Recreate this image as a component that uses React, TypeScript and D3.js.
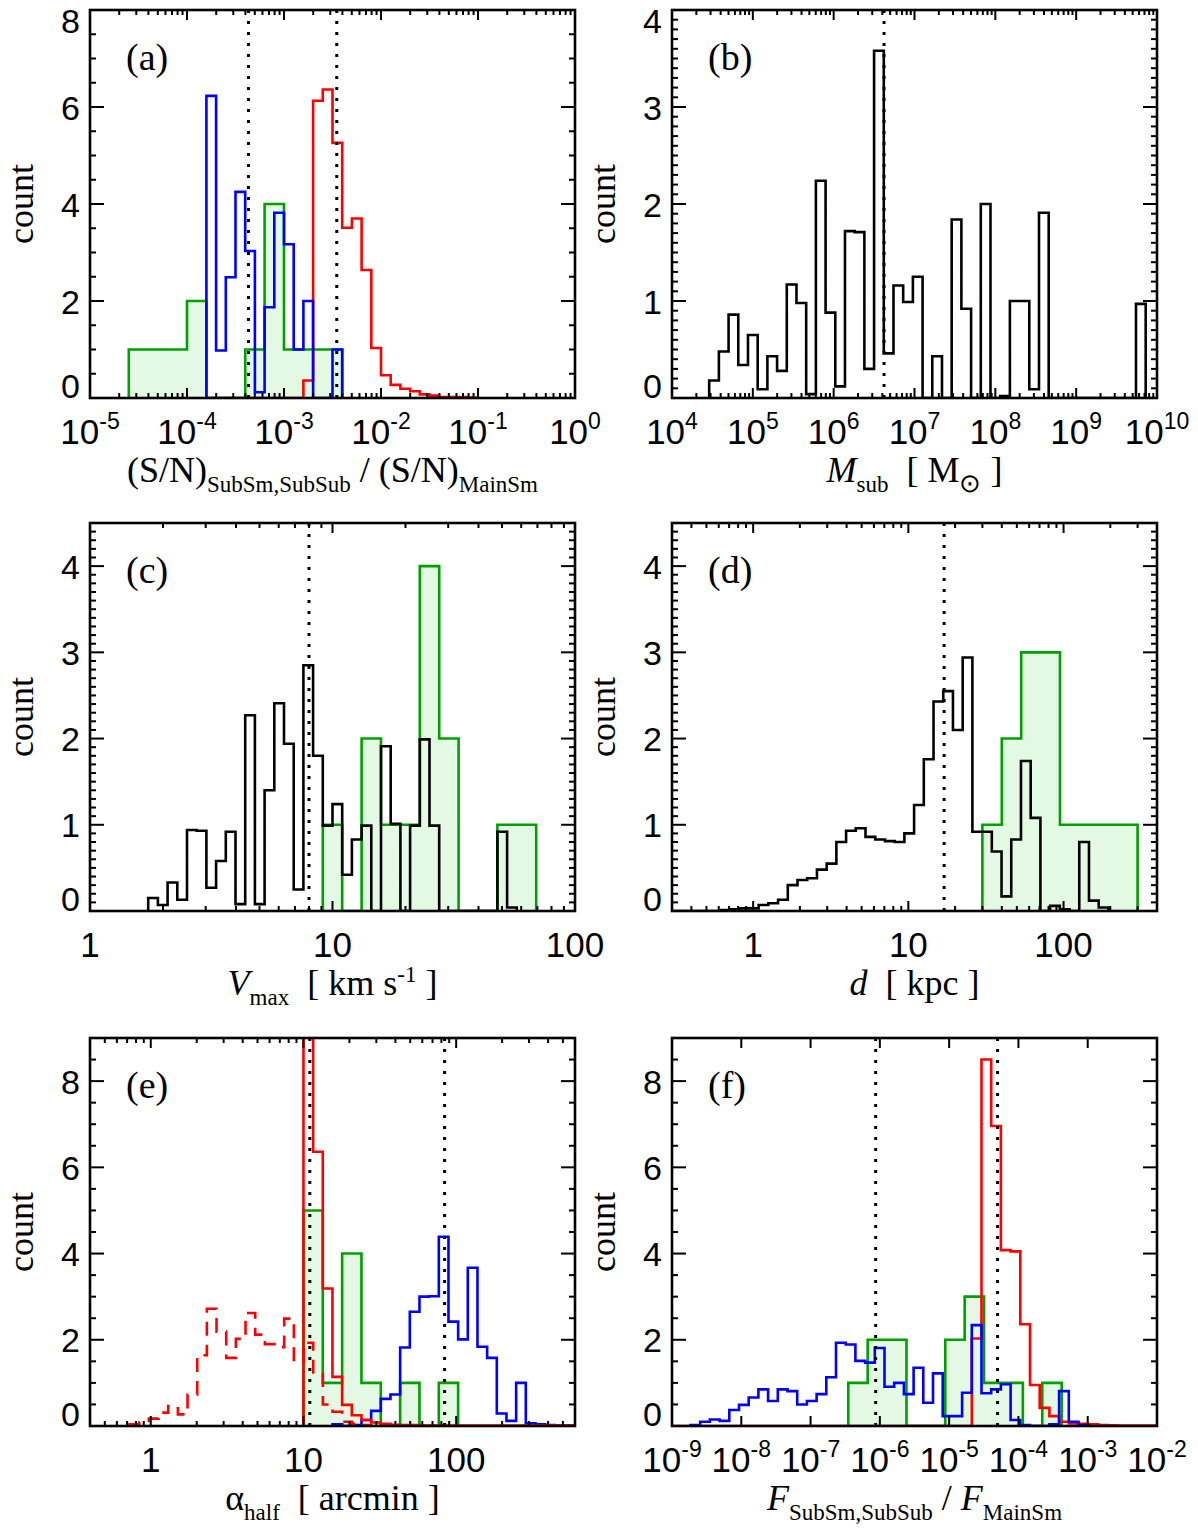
import * as d3 from "d3";
import React from "react";

const W = 1198;
const H = 1530;
const SANS = "'Liberation Sans', Arial, Helvetica, sans-serif";
const SERIF = "'Liberation Serif', 'Times New Roman', serif";

const RED = "#ff0000";
const BLUE = "#0000ff";
const GREEN = "#00a000";
const GREEN_FILL = "#e3f9e3";

// ---- panel (a): (S/N) ratio, log10 bin edges ----
const aGreenStart = -4.6, aGreenWidth = 0.2;
const aGreen = [1, 1, 1, 2, 0, 0, 1, 4, 1, 1, 1];
const aBlueStart = -3.8, aBlueWidth = 0.1;
const aBlue = [6.23, 0.98, 2.49, 4.25, 3.03, 0.12, 1.87, 3.82, 3.17, 1.0, 2.0, 0, 0, 1.0];
const aRedStart = -3.8, aRedWidth = 0.1;
const aRed = [0, 0, 0, 0, 0, 0, 0, 0, 0, 0, 0.36, 6.13, 6.36, 5.26, 3.51, 3.7, 2.64, 1.03, 0.47, 0.27, 0.19, 0.14, 0.075, 0.05, 0.02, 0.02, 0.02, 0.01];
const aDotted = [4.3e-4, 3.5e-3];

// ---- panel (b): M_sub ----
const bBlackStart = 4.46, bBlackWidth = 0.12;
const bBlack = [0.18, 0.48, 0.86, 0.34, 0.65, 0.09, 0.43, 0.28, 1.17, 0.98, 0.04, 2.24, 0.88, 0.12, 1.72, 1.71, 0.3, 3.58, 0.46, 1.16, 0.99, 1.25, 0, 0.43, 0, 1.84, 0.92, 0, 2.0, 0, 0.02, 1.0, 1.0, 0.09, 1.91, 0, 0, 0, 0, 0, 0, 0, 0, 0, 0.97];
const bDotted = [4.2e6];

// ---- panel (c): V_max ----
const cBlackStart = 0.24, cBlackWidth = 0.04;
const cBlack = [0.15, 0.07, 0.33, 0.13, 0.94, 0.93, 0.27, 0.58, 0.92, 0.08, 2.27, 0.08, 1.4, 2.41, 1.94, 0.25, 2.85, 1.8, 0.99, 1.24, 0.42, 0.83, 0.99, 0, 1.91, 1.01, 0, 0.99, 1.99, 0.99, 0, 0, 0, 0, 0, 0, 0.92, 0.04];
const cGreenStart = 0.96, cGreenWidth = 0.08;
const cGreen = [1, 0, 2, 1, 1, 4, 2, 0, 0, 1, 1];
const cDotted = [8];

// ---- panel (d): d ----
const dBlackStart = -0.215, dBlackWidth = 0.0626;
const dBlack = [0.01, 0.02, 0.03, 0.03, 0.07, 0.09, 0.13, 0.3, 0.36, 0.38, 0.48, 0.55, 0.8, 0.93, 0.96, 0.86, 0.83, 0.81, 0.8, 0.9, 1.23, 1.76, 2.43, 2.55, 2.1, 2.94, 0.92, 0.92, 0.69, 0.17, 0.83, 1.74, 1.08, 0, 0.06, 0.02, 0, 0.8, 0.12, 0.04];
const dGreenStart = 1.477, dGreenWidth = 0.125;
const dGreen = [1, 2, 3, 3, 1, 1, 1, 1];
const dDotted = [17];

// ---- panel (e): alpha_half ----
const eDashStart = -0.139, eDashWidth = 0.0633;
const eRedDash = [0.04, 0.08, 0.17, 0.31, 0.46, 0.27, 0.73, 1.64, 2.72, 2.19, 1.58, 2.02, 2.62, 2.12, 1.9, 1.83, 2.49, 1.5, 1.93, 1.2, 0.5, 0.33, 0.1, 0.05, 0.02];
const eRedStart = 1.0, eRedWidth = 0.0633;
const eRed = [14, 6.36, 3.19, 1.14, 0.49, 0.25, 0.14, 0.08, 0.05, 0.03, 0.02, 0.02, 0.01, 0.01, 0.01, 0.01, 0.01, 0.01, 0.01, 0.01, 0.01, 0.01, 0.01, 0.01, 0.01, 0.01, 0.01, 0.01];
const eBlueStart = 1.19, eBlueWidth = 0.0633;
const eBlue = [0.04, 0, 0.02, 0.14, 0.35, 0.63, 0.73, 1.82, 2.65, 3.0, 3.01, 4.39, 2.42, 2.01, 3.67, 1.84, 1.58, 0.29, 0.12, 1.0, 0.06, 0.04, 0.02, 0.01, 0.01];
const eGreenStart = 1.0, eGreenWidth = 0.1266;
const eGreen = [5, 1, 4, 1, 0, 1, 0, 1];
const eDotted = [11, 84];

// ---- panel (f): flux ratio ----
const fBlueStart = -8.733, fBlueWidth = 0.14;
const fBlue = [0.02, 0.1, 0.15, 0.12, 0.37, 0.49, 0.66, 0.85, 0.58, 0.85, 0.81, 0.5, 0.58, 0.74, 1.13, 1.93, 1.89, 1.51, 1.47, 1.81, 0.91, 1.0, 0.74, 1.35, 0.54, 1.22, 0.23, 0.23, 0.77, 2.34, 0.76, 0.85, 0.97, 0.14, 0.02, 0, 0, 0.04, 0.81, 0.1, 0.02];
const fRedStart = -4.673, fRedWidth = 0.14;
const fRed = [2.03, 8.5, 6.96, 4.08, 4.05, 2.36, 0.95, 0.42, 0.23, 0.1, 0.06, 0.05, 0.04, 0.02, 0.015, 0.01, 0.01, 0.01, 0.01];
const fGreenStart = -6.456, fGreenWidth = 0.28;
const fGreen = [1, 2, 2, 0, 0, 2, 3, 1, 1, 0, 1];
const fDotted = [8.7e-7, 5e-5];

type Hist = {
  start: number;
  width: number;
  values: number[];
  color: string;
  fill?: string;
  dash?: string;
  lead?: boolean;
};

type PanelProps = {
  id: string;
  x0: number;
  y0: number;
  xDomain: [number, number];
  yMax: number;
  yMajor: number;
  yMinor: number;
  xMinor: boolean;
  xFmt: "exp" | "plain";
  hists: Hist[];
  dotted: number[];
  label: string;
  title: React.ReactNode;
};

const PW = 485;
const PH = 388;

function stepPath(h: Hist, x: d3.ScaleLogarithmic<number, number>, y: d3.ScaleLinear<number, number>, close: boolean) {
  const edge = (i: number) => x(Math.pow(10, h.start + i * h.width));
  let d = h.lead ? `M${x.range()[0]},${y(0)}L${edge(0)},${y(0)}` : `M${edge(0)},${y(0)}`;
  h.values.forEach((v, i) => {
    d += `L${edge(i)},${y(v)}L${edge(i + 1)},${y(v)}`;
  });
  d += `L${edge(h.values.length)},${y(0)}`;
  if (close) d += "Z";
  return d;
}

function Panel(p: PanelProps) {
  const x1 = p.x0 + PW;
  const y1 = p.y0 + PH;
  const x = d3.scaleLog().domain(p.xDomain).range([p.x0, x1]);
  const y = d3.scaleLinear().domain([0, p.yMax]).range([y1, p.y0]);

  const lo = Math.log10(p.xDomain[0]);
  const hi = Math.log10(p.xDomain[1]);
  const majors: number[] = [];
  const minors: number[] = [];
  for (let e = Math.floor(lo); e <= Math.ceil(hi); e++) {
    const v = Math.pow(10, e);
    if (e >= lo - 1e-9 && e <= hi + 1e-9) majors.push(e);
    if (p.xMinor) {
      for (let k = 2; k <= 9; k++) {
        const m = k * v;
        if (m > p.xDomain[0] && m < p.xDomain[1]) minors.push(m);
      }
    }
  }
  const yMaj = d3.range(0, p.yMax + 1e-9, p.yMajor);
  const yMin = d3.range(0, p.yMax + 1e-9, p.yMinor).filter(
    (v) => Math.abs(v / p.yMajor - Math.round(v / p.yMajor)) > 1e-6
  );

  const cx = p.x0 + PW / 2;
  const cy = p.y0 + PH / 2;

  return (
    <g>
      <defs>
        <clipPath id={`clip-${p.id}`}>
          <rect x={p.x0} y={p.y0} width={PW} height={PH} />
        </clipPath>
      </defs>
      <g clipPath={`url(#clip-${p.id})`}>
        {p.hists.filter((h) => h.fill).map((h, i) => (
          <path key={`f${i}`} d={stepPath(h, x, y, true)} fill={h.fill} stroke="none" />
        ))}
        {p.hists.map((h, i) => (
          <path
            key={`l${i}`}
            d={stepPath(h, x, y, false)}
            fill="none"
            stroke={h.color}
            strokeWidth={2.6}
            strokeDasharray={h.dash}
            strokeLinejoin="miter"
          />
        ))}
        {p.dotted.map((v, i) => (
          <line
            key={`d${i}`}
            x1={x(v)}
            x2={x(v)}
            y1={y1}
            y2={p.y0}
            stroke="#000"
            strokeWidth={3}
            strokeDasharray="3 8"
          />
        ))}
      </g>
      {/* frame + ticks */}
      <rect x={p.x0} y={p.y0} width={PW} height={PH} fill="none" stroke="#000" strokeWidth={2.6} />
      {majors.map((e) => {
        const xv = x(Math.pow(10, e));
        return (
          <g key={`xm${e}`}>
            <line x1={xv} x2={xv} y1={y1} y2={y1 - 10} stroke="#000" strokeWidth={2} />
            <line x1={xv} x2={xv} y1={p.y0} y2={p.y0 + 10} stroke="#000" strokeWidth={2} />
          </g>
        );
      })}
      {minors.map((m, i) => {
        const xv = x(m);
        return (
          <g key={`xn${i}`}>
            <line x1={xv} x2={xv} y1={y1} y2={y1 - 5} stroke="#000" strokeWidth={2} />
            <line x1={xv} x2={xv} y1={p.y0} y2={p.y0 + 5} stroke="#000" strokeWidth={2} />
          </g>
        );
      })}
      {yMaj.map((v) => (
        <g key={`ym${v}`}>
          <line x1={p.x0} x2={p.x0 + 14} y1={y(v)} y2={y(v)} stroke="#000" strokeWidth={2} />
          <line x1={x1} x2={x1 - 14} y1={y(v)} y2={y(v)} stroke="#000" strokeWidth={2} />
        </g>
      ))}
      {yMin.map((v, i) => (
        <g key={`yn${i}`}>
          <line x1={p.x0} x2={p.x0 + 6} y1={y(v)} y2={y(v)} stroke="#000" strokeWidth={2} />
          <line x1={x1} x2={x1 - 6} y1={y(v)} y2={y(v)} stroke="#000" strokeWidth={2} />
        </g>
      ))}
      {/* y tick labels */}
      {yMaj.map((v) => {
        let base = y(v) + 12.5;
        if (v === 0) base = y(v);
        if (Math.abs(v - p.yMax) < 1e-9) base = y(v) + 23;
        return (
          <text key={`yl${v}`} x={p.x0 - 10} y={base} textAnchor="end" fontFamily={SANS} fontSize={34}>
            {v}
          </text>
        );
      })}
      {/* x tick labels */}
      {majors.map((e) => (
        <text
          key={`xl${e}`}
          x={x(Math.pow(10, e))}
          y={y1 + 46}
          textAnchor="middle"
          fontFamily={SANS}
          fontSize={35}
        >
          {p.xFmt === "exp" ? (
            <>
              10
              <tspan dy={-15} fontSize={23}>
                {e}
              </tspan>
            </>
          ) : (
            String(Math.pow(10, e))
          )}
        </text>
      ))}
      <text x={p.x0 + 36} y={p.y0 + 60} fontFamily={SERIF} fontSize={38}>
        {p.label}
      </text>
      <text
        transform={`translate(${p.x0 - 57},${cy}) rotate(-90)`}
        textAnchor="middle"
        fontFamily={SERIF}
        fontSize={36}
      >
        count
      </text>
      <text
        x={cx}
        y={y1 + 84}
        textAnchor="middle"
        fontFamily={SERIF}
        fontSize={36}
        style={{ whiteSpace: "pre" }}
      >
        {p.title}
      </text>
    </g>
  );
}

const SUB = 10;
const SUBF = 23;

const titleA = (
  <>
    (S/N)<tspan dy={SUB} fontSize={SUBF}>SubSm,SubSub</tspan>
    <tspan dy={-SUB}> / (S/N)</tspan>
    <tspan dy={SUB} fontSize={SUBF}>MainSm</tspan>
  </>
);
const titleB = (
  <>
    <tspan fontStyle="italic">M</tspan>
    <tspan dy={SUB} fontSize={SUBF}>sub</tspan>
    <tspan dy={-SUB}>{"  [ M"}</tspan>
    <tspan dy={SUB} fontSize={26}>⊙</tspan>
    <tspan dy={-SUB}>{" ]"}</tspan>
  </>
);
const titleC = (
  <>
    <tspan fontStyle="italic">V</tspan>
    <tspan dy={SUB} fontSize={SUBF}>max</tspan>
    <tspan dy={-SUB}>{"  [ km s"}</tspan>
    <tspan dy={-13} fontSize={SUBF}>-1</tspan>
    <tspan dy={13}>{" ]"}</tspan>
  </>
);
const titleD = (
  <>
    <tspan fontStyle="italic">d</tspan>
    <tspan>{"  [ kpc ]"}</tspan>
  </>
);
const titleE = (
  <>
    α<tspan dy={SUB} fontSize={SUBF}>half</tspan>
    <tspan dy={-SUB}>{"  [ arcmin ]"}</tspan>
  </>
);
const titleF = (
  <>
    <tspan fontStyle="italic">F</tspan>
    <tspan dy={SUB} fontSize={SUBF}>SubSm,SubSub</tspan>
    <tspan dy={-SUB}>{" / "}</tspan>
    <tspan fontStyle="italic">F</tspan>
    <tspan dy={SUB} fontSize={SUBF}>MainSm</tspan>
  </>
);

const LX = 90;
const RX = 672;
const ROWS = [10, 523, 1038];

export default function App() {
  return (
    <svg
      width={W}
      height={H}
      viewBox={`0 0 ${W} ${H}`}
      style={{ position: "absolute", left: 0, top: 0, background: "#fff" }}
    >
      <Panel
        id="a"
        x0={LX}
        y0={ROWS[0]}
        xDomain={[1e-5, 1]}
        yMax={8}
        yMajor={2}
        yMinor={0.5}
        xMinor={true}
        xFmt="exp"
        hists={[
          { start: aGreenStart, width: aGreenWidth, values: aGreen, color: GREEN, fill: GREEN_FILL },
          { start: aRedStart, width: aRedWidth, values: aRed, color: RED },
          { start: aBlueStart, width: aBlueWidth, values: aBlue, color: BLUE },
        ]}
        dotted={aDotted}
        label="(a)"
        title={titleA}
      />
      <Panel
        id="b"
        x0={RX}
        y0={ROWS[0]}
        xDomain={[1e4, 1e10]}
        yMax={4}
        yMajor={1}
        yMinor={0.1}
        xMinor={true}
        xFmt="exp"
        hists={[{ start: bBlackStart, width: bBlackWidth, values: bBlack, color: "#000" }]}
        dotted={bDotted}
        label="(b)"
        title={titleB}
      />
      <Panel
        id="c"
        x0={LX}
        y0={ROWS[1]}
        xDomain={[1, 100]}
        yMax={4.5}
        yMajor={1}
        yMinor={0.1}
        xMinor={true}
        xFmt="plain"
        hists={[
          { start: cGreenStart, width: cGreenWidth, values: cGreen, color: GREEN, fill: GREEN_FILL },
          { start: cBlackStart, width: cBlackWidth, values: cBlack, color: "#000" },
        ]}
        dotted={cDotted}
        label="(c)"
        title={titleC}
      />
      <Panel
        id="d"
        x0={RX}
        y0={ROWS[1]}
        xDomain={[0.3, 400]}
        yMax={4.5}
        yMajor={1}
        yMinor={0.1}
        xMinor={true}
        xFmt="plain"
        hists={[
          { start: dGreenStart, width: dGreenWidth, values: dGreen, color: GREEN, fill: GREEN_FILL },
          { start: dBlackStart, width: dBlackWidth, values: dBlack, color: "#000", lead: true },
        ]}
        dotted={dDotted}
        label="(d)"
        title={titleD}
      />
      <Panel
        id="e"
        x0={LX}
        y0={ROWS[2]}
        xDomain={[0.4, 600]}
        yMax={9}
        yMajor={2}
        yMinor={0.5}
        xMinor={true}
        xFmt="plain"
        hists={[
          { start: eGreenStart, width: eGreenWidth, values: eGreen, color: GREEN, fill: GREEN_FILL },
          { start: eBlueStart, width: eBlueWidth, values: eBlue, color: BLUE },
          { start: eDashStart, width: eDashWidth, values: eRedDash, color: RED, dash: "14 9" },
          { start: eRedStart, width: eRedWidth, values: eRed, color: RED },
        ]}
        dotted={eDotted}
        label="(e)"
        title={titleE}
      />
      <Panel
        id="f"
        x0={RX}
        y0={ROWS[2]}
        xDomain={[1e-9, 1e-2]}
        yMax={9}
        yMajor={2}
        yMinor={0.5}
        xMinor={false}
        xFmt="exp"
        hists={[
          { start: fGreenStart, width: fGreenWidth, values: fGreen, color: GREEN, fill: GREEN_FILL },
          { start: fRedStart, width: fRedWidth, values: fRed, color: RED, lead: true },
          { start: fBlueStart, width: fBlueWidth, values: fBlue, color: BLUE },
        ]}
        dotted={fDotted}
        label="(f)"
        title={titleF}
      />
    </svg>
  );
}
